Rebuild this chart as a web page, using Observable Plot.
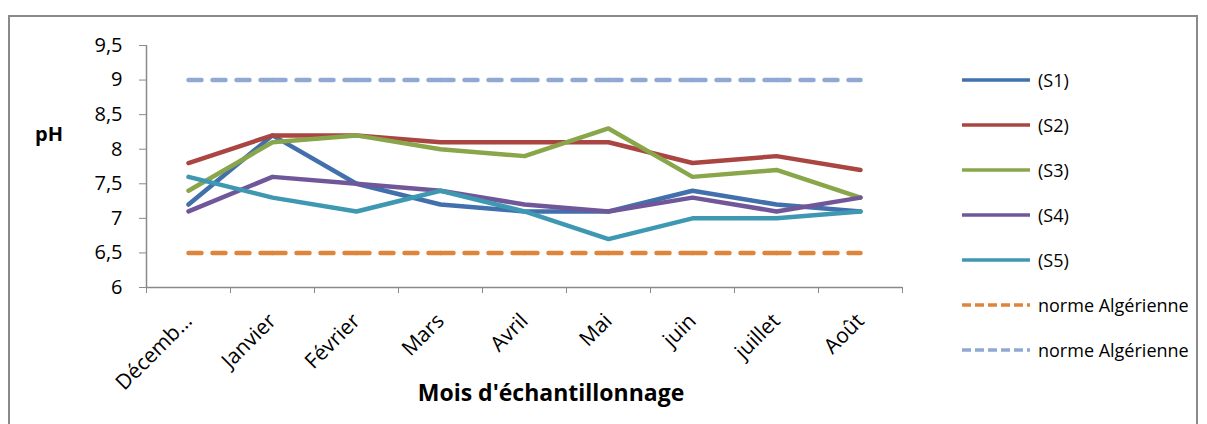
<!DOCTYPE html>
<html>
<head>
<meta charset="utf-8">
<script src="https://cdn.jsdelivr.net/npm/d3@7"></script>
<script src="https://cdn.jsdelivr.net/npm/@observablehq/plot@0.6"></script>
<style>
  html, body { margin: 0; padding: 0; background: #fff; }
  body { width: 1207px; height: 424px; position: relative; overflow: hidden; font-family: "Open Sans", sans-serif; }
  #frame { position: absolute; left: 8px; top: 15px; width: 1190px; height: 430px; border: 2px solid #8a8a8a; box-sizing: border-box; }
  #chart { position: absolute; left: 0; top: 0; }
  .ttl { position: absolute; font-weight: bold; color: #000; white-space: nowrap; }
  #legend { position: absolute; left: 962px; top: 0; }
  .li { position: absolute; left: 0; height: 20px; display: flex; align-items: center; white-space: nowrap; font-size: 18px; color: #000; }
  .li svg { margin-right: 8px; }
</style>
</head>
<body>
<div id="frame"></div>
<div id="chart"></div>
<div class="ttl" id="ylab" style="left:35px; top:120px; font-size:20px;">pH</div>
<div class="ttl" id="xlab" style="left:0; top:376px; width:1102px; text-align:center; font-size:23px;">Mois d'échantillonnage</div>
<div id="legend"></div>
<script>
// ---- data ----
const months = ["Décemb…", "Janvier", "Février", "Mars", "Avril", "Mai", "juin", "juillet", "Août"];
const S1 = [7.2, 8.2, 7.5, 7.2, 7.1, 7.1, 7.4, 7.2, 7.1];
const S2 = [7.8, 8.2, 8.2, 8.1, 8.1, 8.1, 7.8, 7.9, 7.7];
const S3 = [7.4, 8.1, 8.2, 8.0, 7.9, 8.3, 7.6, 7.7, 7.3];
const S4 = [7.1, 7.6, 7.5, 7.4, 7.2, 7.1, 7.3, 7.1, 7.3];
const S5 = [7.6, 7.3, 7.1, 7.4, 7.1, 6.7, 7.0, 7.0, 7.1];
const normeMin = [6.5, 6.5, 6.5, 6.5, 6.5, 6.5, 6.5, 6.5, 6.5];
const normeMax = [9, 9, 9, 9, 9, 9, 9, 9, 9];
const yTicks = [6, 6.5, 7, 7.5, 8, 8.5, 9, 9.5];

const series = [
  {name: "(S1)", values: S1, color: "#4170ac", dash: false},
  {name: "(S2)", values: S2, color: "#aa4541", dash: false},
  {name: "(S3)", values: S3, color: "#89a64a", dash: false},
  {name: "(S4)", values: S4, color: "#70579a", dash: false},
  {name: "(S5)", values: S5, color: "#3f98b2", dash: false},
  {name: "norme Algérienne", values: normeMin, color: "#dd853b", dash: true},
  {name: "norme Algérienne", values: normeMax, color: "#90a9d3", dash: true}
];

const idx = d3.range(months.length);
const bounds = d3.range(months.length + 1).map(i => i - 0.5);

const marks = [];
// axis lines
marks.push(Plot.ruleY([6], {x1: -0.5, x2: 8.5, stroke: "#8a8a8a", strokeWidth: 1.5}));
marks.push(Plot.ruleX([-0.5], {y1: 6, y2: 9.5, stroke: "#8a8a8a", strokeWidth: 1.5}));
// y axis
marks.push(Plot.axisY(yTicks, {
  anchor: "left", tickSize: 7, tickPadding: 17, stroke: "#8a8a8a", fill: "#000",
  fontSize: 20, label: null, tickFormat: d => String(d).replace(".", ",")
}));
// x ticks at category boundaries
marks.push(Plot.axisX(bounds, {anchor: "bottom", tickSize: 6, stroke: "#8a8a8a", tickFormat: () => "", label: null}));
// x labels
marks.push(Plot.axisX(idx, {
  anchor: "bottom", tickSize: 0, tickPadding: 30, tickRotate: -45, fill: "#000",
  fontSize: 21, label: null, tickFormat: i => months[i]
}));

// dashed norms: each segment separately (dash restarts per segment)
for (const s of series.filter(s => s.dash)) {
  const segs = d3.range(s.values.length - 1).map(i => ({x1: i, x2: i + 1, y1: s.values[i], y2: s.values[i + 1]}));
  marks.push(Plot.link(segs, {x1: "x1", x2: "x2", y1: "y1", y2: "y2", stroke: s.color, strokeWidth: 4.5, strokeDasharray: "13,11", strokeLinecap: "round"}));
}
for (const s of series.filter(s => !s.dash)) {
  marks.push(Plot.line(idx, {x: i => i, y: i => s.values[i], stroke: s.color, strokeWidth: 4.5, strokeLinejoin: "round", strokeLinecap: "round"}));
}

const chart = Plot.plot({
  width: 1207, height: 424,
  marginLeft: 146, marginRight: 305, marginTop: 45, marginBottom: 137,
  x: {type: "linear", domain: [-0.5, 8.5], axis: null},
  y: {domain: [6, 9.5], axis: null},
  style: {fontFamily: "'Open Sans', sans-serif", background: "transparent", overflow: "visible"},
  marks
});
document.getElementById("chart").appendChild(chart);

// legend
const leg = document.getElementById("legend");
series.forEach((s, i) => {
  const row = document.createElement("div");
  row.className = "li";
  row.style.top = (70 + i * 45) + "px";
  const dash = s.dash ? `stroke-dasharray="9,4"` : "";
  row.innerHTML = `<svg width="68" height="6"><line x1="0" y1="3" x2="68" y2="3" stroke="${s.color}" stroke-width="3.5" ${dash}/></svg><span>${s.name}</span>`;
  leg.appendChild(row);
});
</script>
</body>
</html>
